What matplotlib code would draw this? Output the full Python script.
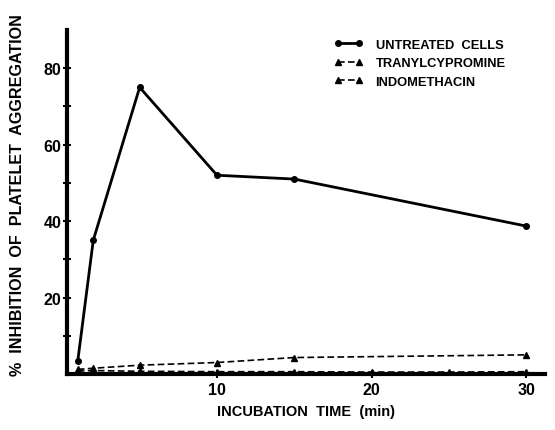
import matplotlib.pyplot as plt

# incubation time (min) and % inhibition
untreated_t = [1, 2, 5, 10, 15, 30]
untreated = [3.5, 35, 75, 52, 51, 38.7]

tranyl_t = [1, 2, 5, 10, 15, 30]
tranyl = [1.2, 1.5, 2.3, 3.0, 4.3, 5.0]

indo_t = [1, 2, 5, 10, 15, 20, 25, 30]
indo = [0.8, 0.9, 0.7, 0.6, 0.6, 0.5, 0.5, 0.6]

bold = dict(family='Liberation Sans', weight='bold')

fig = plt.figure(figsize=(5.55, 4.31), dpi=100)
ax = fig.add_axes([0.1207, 0.130, 0.861, 0.798])

ax.plot(untreated_t, untreated, '-o', color='black', lw=2, ms=4,
        label='UNTREATED  CELLS')
ax.plot(tranyl_t, tranyl, '--^', color='black', lw=1.2, ms=4,
        dashes=(4, 2), label='TRANYLCYPROMINE')
ax.plot(indo_t, indo, '--^', color='black', lw=1.2, ms=4,
        dashes=(4, 2), label='INDOMETHACIN')

ax.set_xlim(0.3, 31.2)
ax.set_ylim(0, 90)
ax.set_xticks([10, 20, 30])
ax.set_yticks([20, 40, 60, 80])
ax.set_yticks([10, 30, 50, 70], minor=True)
for lab in ax.get_xticklabels() + ax.get_yticklabels():
    lab.set_fontfamily('Liberation Sans')
    lab.set_fontweight('bold')
    lab.set_fontsize(11.5)
ax.tick_params(axis='both', which='both', direction='inout', width=1.5,
               length=6, pad=3)
ax.tick_params(axis='y', which='major', pad=1)

for s in ['top', 'right']:
    ax.spines[s].set_visible(False)
for s in ['left', 'bottom']:
    ax.spines[s].set_linewidth(3)

ax.set_xlabel('INCUBATION  TIME  (min)', fontsize=10.5, labelpad=5, **bold)
fig.text(0.031, 0.548, '%  INHIBITION  OF  PLATELET  AGGREGATION',
         rotation=90, ha='center', va='center', fontsize=11.6, **bold)

leg = ax.legend(loc='upper left', bbox_to_anchor=(0.535, 1.008),
                frameon=False, handlelength=2.2, labelspacing=0.5,
                handletextpad=1.0, numpoints=2,
                prop={'family': 'Liberation Sans', 'weight': 'bold',
                      'size': 9.3})

fig.savefig('out.png', dpi=100)
